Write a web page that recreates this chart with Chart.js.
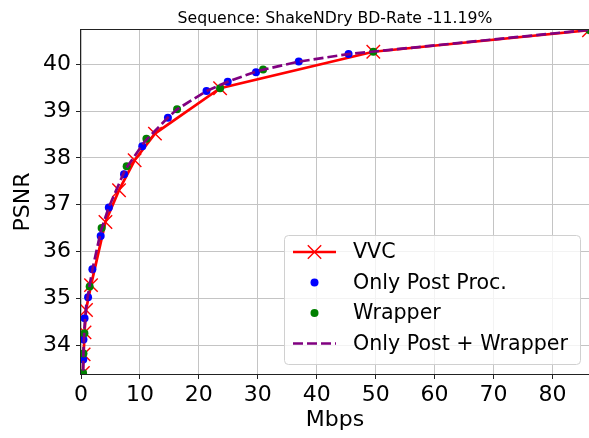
<!DOCTYPE html>
<html>
<head>
<meta charset="utf-8">
<script src="https://cdn.jsdelivr.net/npm/chart.js@4"></script>
<style>
  body { margin: 0; background: #fff; }
  #wrap { position: relative; width: 589px; height: 438px; }
</style>
</head>
<body>
<div id="wrap"><canvas id="rdChart"></canvas></div>
<script>
// values (Mbps, PSNR dB)
const chartTitle = "Sequence: ShakeNDry BD-Rate -11.19%";
const xTitle = "Mbps";
const yTitle = "PSNR";
const seriesNames = ["VVC", "Only Post Proc.", "Wrapper", "Only Post + Wrapper"];

const vvcRate = [0.32, 0.45, 0.6, 0.85, 1.7, 4.15, 6.45, 9.1, 12.55, 23.6, 49.6, 86.2];
const vvcPsnr = [33.40, 33.80, 34.27, 34.75, 35.28, 36.63, 37.31, 37.95, 38.52, 39.49, 40.27, 40.73];

const postRate = [0.38, 0.42, 0.6, 1.2, 1.93, 3.34, 4.72, 7.3, 10.4, 14.75, 21.3, 24.9, 29.7, 36.95, 45.4, 86.4];
const postPsnr = [33.69, 34.12, 34.57, 35.02, 35.62, 36.33, 36.94, 37.65, 38.25, 38.86, 39.43, 39.63, 39.83, 40.06, 40.22, 40.74];

const wrapRate = [0.35, 0.42, 0.58, 1.47, 3.5, 7.75, 11.1, 16.3, 23.6, 30.9, 49.6, 86.3];
const wrapPsnr = [33.40, 33.82, 34.25, 35.25, 36.50, 37.82, 38.41, 39.04, 39.49, 39.89, 40.27, 40.73];

const bothRate = [0.35, 0.42, 0.58, 0.9, 1.5, 2.0, 3.4, 4.7, 7.5, 10.8, 14.8, 16.3, 21.3, 24.9, 30.0, 37.0, 45.4, 86.3];
const bothPsnr = [33.45, 33.90, 34.35, 34.85, 35.30, 35.65, 36.45, 36.94, 37.75, 38.35, 38.87, 39.04, 39.43, 39.63, 39.86, 40.06, 40.22, 40.74];

const xTicks = [0, 10, 20, 30, 40, 50, 60, 70, 80];
const yTicks = [34, 35, 36, 37, 38, 39, 40];

function pts(xs, ys) {
    return xs.map((x, i) => ({ x: x, y: ys[i] }));
}

const FONT = "'DejaVu Sans', sans-serif";

// title, spines and the in-plot legend, matplotlib style
const framePlugin = {
    id: "frame",
    afterDatasetsDraw(chart) {
        const { ctx, chartArea: a } = chart;
        ctx.save();
        ctx.strokeStyle = "#222";
        ctx.lineWidth = 1;
        ctx.strokeRect(a.left - 0.5, a.top - 0.5, a.right - a.left + 1, a.bottom - a.top + 1);
        ctx.restore();
    },
    afterDraw(chart) {
        const { ctx, chartArea: a } = chart;
        ctx.save();
        ctx.fillStyle = "#000";
        ctx.font = "15.7px " + FONT;
        ctx.textAlign = "center";
        ctx.textBaseline = "alphabetic";
        ctx.fillText(chartTitle, (a.left + a.right) / 2, 23);

        // legend box
        const bx = 284, by = 235, bw = 296, bh = 129;
        ctx.beginPath();
        ctx.roundRect(bx + 0.5, by + 0.5, bw, bh, 4);
        ctx.fillStyle = "rgba(255,255,255,0.8)";
        ctx.fill();
        ctx.strokeStyle = "#d0d0d0";
        ctx.lineWidth = 1;
        ctx.stroke();

        const rows = [252, 282.5, 313, 343.5];
        const hx0 = 293, hx1 = 336, hxm = (hx0 + hx1) / 2;
        ctx.font = "20.6px " + FONT;
        ctx.textAlign = "left";
        ctx.textBaseline = "middle";
        rows.forEach((ry, i) => {
            if (i === 0) {
                ctx.strokeStyle = "#ff0000";
                ctx.lineWidth = 2.7;
                ctx.beginPath(); ctx.moveTo(hx0, ry); ctx.lineTo(hx1, ry); ctx.stroke();
                ctx.lineWidth = 1.4;
                ctx.beginPath();
                ctx.moveTo(hxm - 6.7, ry - 6.7); ctx.lineTo(hxm + 6.7, ry + 6.7);
                ctx.moveTo(hxm - 6.7, ry + 6.7); ctx.lineTo(hxm + 6.7, ry - 6.7);
                ctx.stroke();
            } else if (i === 1 || i === 2) {
                ctx.fillStyle = i === 1 ? "#0000ff" : "#008000";
                ctx.beginPath(); ctx.arc(hxm, ry, 4, 0, Math.PI * 2); ctx.fill();
            } else {
                ctx.strokeStyle = "#800080";
                ctx.lineWidth = 2.7;
                ctx.setLineDash([10, 4]);
                ctx.beginPath(); ctx.moveTo(hx0, ry); ctx.lineTo(hx1, ry); ctx.stroke();
                ctx.setLineDash([]);
            }
            ctx.fillStyle = "#000";
            ctx.fillText(seriesNames[i], 353, ry + 1);
        });
        ctx.restore();
    }
};

const ctx = document.getElementById("rdChart").getContext("2d");

new Chart(ctx, {
    type: "scatter",
    data: {
        datasets: [
            {
                label: seriesNames[0],
                data: pts(vvcRate, vvcPsnr),
                showLine: true,
                borderColor: "#ff0000",
                borderWidth: 2.7,
                pointStyle: "crossRot",
                pointRadius: 9.5,
                pointBorderWidth: 1.4,
                pointBorderColor: "#ff0000",
                order: 4
            },
            {
                label: seriesNames[1],
                data: pts(postRate, postPsnr),
                showLine: false,
                pointRadius: 4,
                pointBorderWidth: 0,
                pointBackgroundColor: "#0000ff",
                order: 3
            },
            {
                label: seriesNames[2],
                data: pts(wrapRate, wrapPsnr),
                showLine: false,
                pointRadius: 4,
                pointBorderWidth: 0,
                pointBackgroundColor: "#008000",
                order: 2
            },
            {
                label: seriesNames[3],
                data: pts(bothRate, bothPsnr),
                showLine: true,
                borderColor: "#800080",
                borderWidth: 2.7,
                borderDash: [10, 4],
                pointRadius: 0,
                order: 1
            }
        ]
    },
    options: {
        responsive: true,
        maintainAspectRatio: false,
        animation: false,
        events: [],
        devicePixelRatio: 1,
        layout: { autoPadding: false, padding: { top: 30, right: 0, left: 0, bottom: 0 } },
        plugins: {
            legend: { display: false },
            title: { display: false },
            tooltip: { enabled: false }
        },
        scales: {
            x: {
                type: "linear",
                min: 0,
                max: 86.2,
                afterFit: s => { s.height = 64; s.paddingLeft = 0; s.paddingRight = 0; },
                afterBuildTicks: s => { s.ticks = xTicks.map(v => ({ value: v })); },
                grid: { color: "#c4c4c4", lineWidth: 1, tickColor: "#222", tickLength: 5 },
                border: { display: false },
                ticks: { color: "#000", font: { family: FONT, size: 22 }, padding: 3 },
                title: {
                    display: true, text: xTitle, color: "#000",
                    font: { family: FONT, size: 22 }, padding: { top: 0, bottom: 5 }
                }
            },
            y: {
                type: "linear",
                min: 33.38,
                max: 40.735,
                afterFit: s => { s.width = 81; s.paddingTop = 0; s.paddingBottom = 0; },
                afterBuildTicks: s => { s.ticks = yTicks.map(v => ({ value: v })); },
                grid: { color: "#c4c4c4", lineWidth: 1, tickColor: "#222", tickLength: 5 },
                border: { display: false },
                ticks: { color: "#000", font: { family: FONT, size: 22 }, padding: 5 },
                title: {
                    display: true, text: yTitle, color: "#000",
                    font: { family: FONT, size: 22 }, padding: { top: 10, bottom: 0 }
                }
            }
        }
    },
    plugins: [framePlugin]
});
</script>
</body>
</html>
